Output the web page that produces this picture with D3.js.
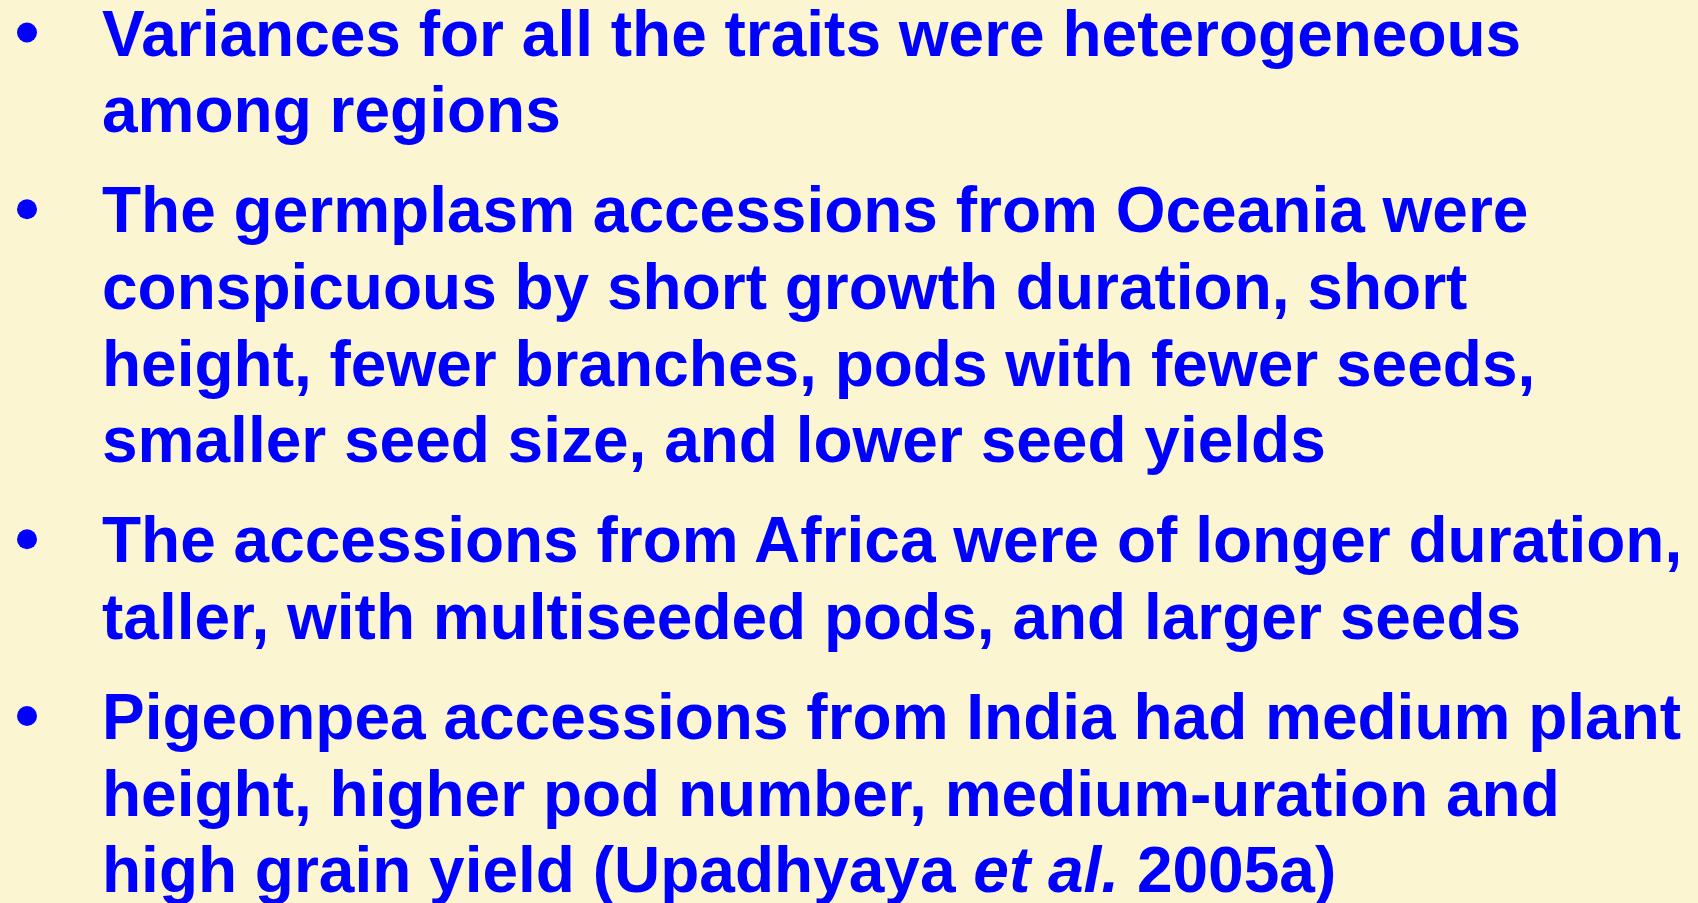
<!DOCTYPE html>
<html>
<head>
<meta charset="utf-8">
<script src="https://cdn.jsdelivr.net/npm/d3@7"></script>
<style>
  html, body { margin: 0; padding: 0; background: #fbf6d1; overflow: hidden; }
  svg { display: block; }
</style>
</head>
<body>
<div id="slide"></div>
<script>
const width = 1698;
const height = 903;

// bullet paragraphs, one entry per line as it wraps on the slide
const bullet1 = [
  "Variances for all the traits were heterogeneous",
  "among regions"
];
const bullet2 = [
  "The germplasm accessions from Oceania were",
  "conspicuous by short growth duration, short",
  "height, fewer branches, pods with fewer seeds,",
  "smaller seed size, and lower seed yields"
];
const bullet3 = [
  "The accessions from Africa were of longer duration,",
  "taller, with multiseeded pods, and larger seeds"
];
const bullet4 = [
  "Pigeonpea accessions from India had medium plant",
  "height, higher pod number, medium-uration and",
  "high grain yield (Upadhyaya |et al.| 2005a)"
];
const bullets = [bullet1, bullet2, bullet3, bullet4];

const lineStep = 76.7;
const paraGap = 23.3;
const firstBase = 55.5;

// flatten into rows with a running line index
let rows = [];
let n = 0;
bullets.forEach(function(b, p) {
  b.forEach(function(t, i) {
    rows.push({para: p, first: i === 0, text: t, slot: n + p * paraGap / lineStep});
    n++;
  });
});

const y = d3.scaleLinear()
  .domain([0, 1])
  .range([firstBase, firstBase + lineStep]);

const svg = d3.select("#slide").append("svg")
  .attr("width", width)
  .attr("height", height);

svg.append("rect")
  .attr("width", width)
  .attr("height", height)
  .attr("fill", "#fbf6d1");

const g = svg.append("g")
  .attr("font-family", "'Liberation Sans', Arial, Helvetica, sans-serif")
  .attr("font-weight", "bold")
  .attr("font-size", 64)
  .attr("fill", "#0000ff");

g.selectAll("circle.dot")
  .data(rows.filter(d => d.first))
  .join("circle")
  .attr("class", "dot")
  .attr("cx", 27)
  .attr("cy", d => y(d.slot) - 23)
  .attr("r", 10);

const lines = g.selectAll("text.line")
  .data(rows)
  .join("text")
  .attr("class", "line")
  .attr("x", 102)
  .attr("y", d => y(d.slot));

// "|" marks italic runs
lines.each(function(d) {
  const parts = d.text.split("|");
  const t = d3.select(this);
  parts.forEach(function(s, i) {
    t.append("tspan")
      .attr("font-style", i % 2 ? "italic" : "normal")
      .text(s);
  });
});
</script>
</body>
</html>
